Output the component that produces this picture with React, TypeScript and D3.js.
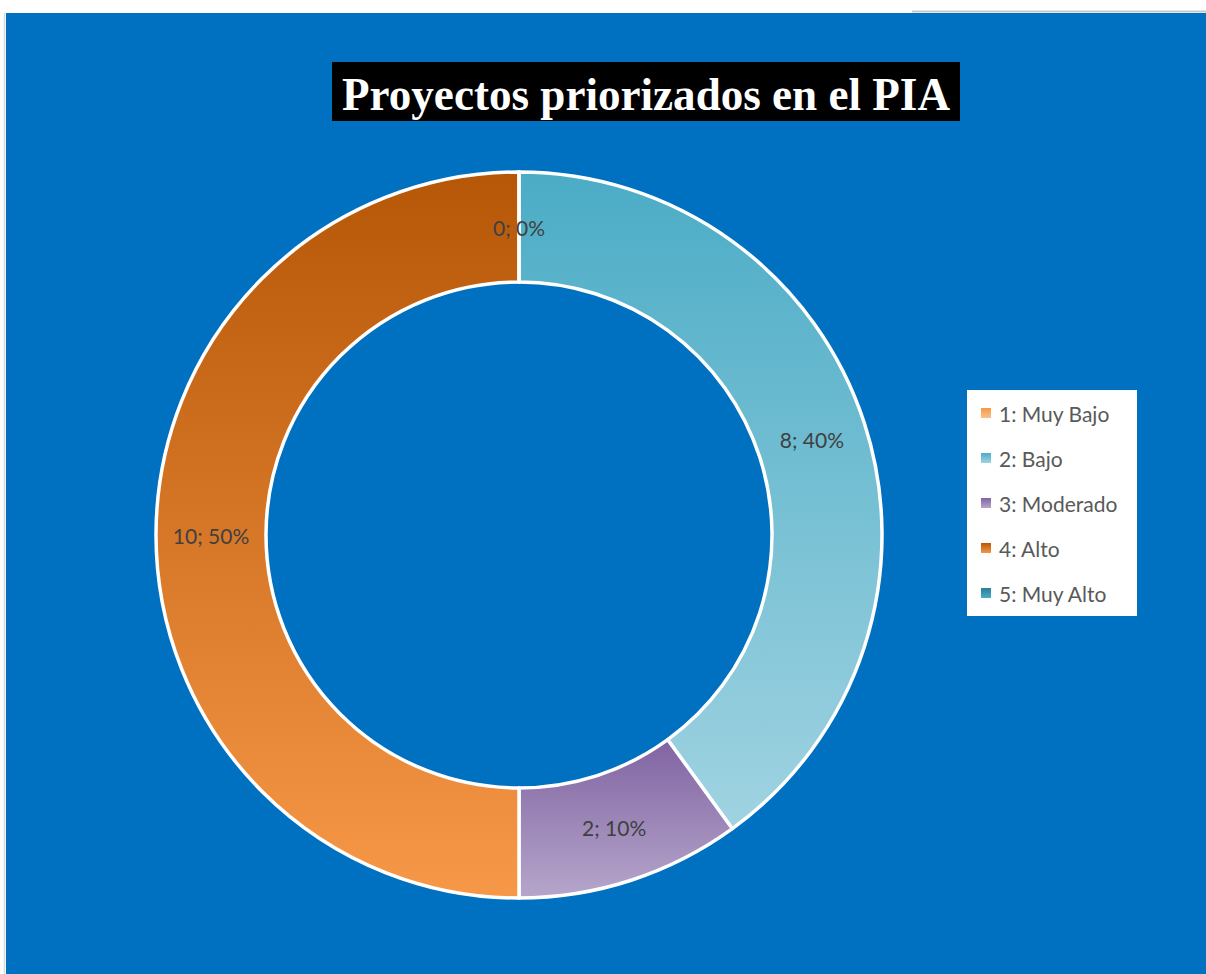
import React from "react";
import * as d3 from "d3";

const categories = ["1: Muy Bajo", "2: Bajo", "3: Moderado", "4: Alto", "5: Muy Alto"];
const values = [0, 8, 2, 10, 0];
const gradTop = ["#F79646", "#4BACC6", "#8064A2", "#B65708", "#2B7E94"];
const gradBottom = ["#FAC090", "#A0D3E1", "#B6A6CB", "#F79848", "#4BACC6"];
const title = "Proyectos priorizados en el PIA";

const W = 1206;
const H = 974;
const cx = 519;
const cy = 535;
const rOuter = 363;
const rInner = 253;

export default function App() {
  const total = d3.sum(values);
  const pie = d3
    .pie<number>()
    .sort(null)
    .value((d) => d)
    .startAngle(0)
    .endAngle(2 * Math.PI);
  const arcs = pie(values);
  const arcGen = d3.arc<d3.PieArcDatum<number>>().innerRadius(rInner).outerRadius(rOuter);
  const labelArc = d3
    .arc<d3.PieArcDatum<number>>()
    .innerRadius((rInner + rOuter) / 2)
    .outerRadius((rInner + rOuter) / 2);

  const seen: string[] = [];
  const labels = arcs
    .map((a, i) => {
      const [x, y] = labelArc.centroid(a);
      const key = `${Math.round(x)},${Math.round(y)}`;
      if (seen.includes(key)) return null;
      seen.push(key);
      const pct = total ? Math.round((a.data / total) * 100) : 0;
      return { x, y, text: `${a.data}; ${pct}%`, i };
    })
    .filter((d) => d !== null) as { x: number; y: number; text: string; i: number }[];

  const legendX = 967;
  const legendY = 390;
  const rowStep = 45;

  return (
    <svg
      width={W}
      height={H}
      style={{ position: "absolute", left: 0, top: 0, display: "block" }}
      xmlns="http://www.w3.org/2000/svg"
    >
      <defs>
        {categories.map((c, i) => (
          <linearGradient key={c} id={`g${i}`} x1="0" y1="0" x2="0" y2="1">
            <stop offset="0" stopColor={gradTop[i]} />
            <stop offset="1" stopColor={gradBottom[i]} />
          </linearGradient>
        ))}
      </defs>
      <rect x={0} y={0} width={W} height={H} fill="#ffffff" />
      <line x1={4.5} y1={13} x2={4.5} y2={H} stroke="#d9d9d9" strokeWidth={1.5} />
      <line x1={912} y1={11.5} x2={W} y2={11.5} stroke="#c8c8c8" strokeWidth={2} />
      <rect x={6} y={13} width={W - 6} height={H - 13} fill="#0070C0" />

      <rect x={332} y={62} width={628} height={59} fill="#000000" />
      <text
        x={646}
        y={110}
        textAnchor="middle"
        fill="#ffffff"
        fontFamily="'Liberation Serif', 'DejaVu Serif', serif"
        fontWeight="bold"
        fontSize={46}
        textLength={608}
        lengthAdjust="spacingAndGlyphs"
      >
        {title}
      </text>

      <g transform={`translate(${cx},${cy})`}>
        {arcs.map((a, i) => (
          <path
            key={categories[i]}
            d={arcGen(a) || ""}
            fill={`url(#g${i})`}
            stroke="#ffffff"
            strokeWidth={3.5}
            strokeLinejoin="round"
          />
        ))}
        {labels.map((l) => (
          <text
            key={`l${l.i}`}
            x={l.x}
            y={l.y}
            textAnchor="middle"
            dominantBaseline="central"
            fill="#404040"
            fontFamily="Lato, 'Open Sans', sans-serif"
            fontSize={21}
          >
            {l.text}
          </text>
        ))}
      </g>

      <rect x={legendX} y={legendY} width={170} height={226} fill="#ffffff" />
      {categories.map((c, i) => {
        const yc = legendY + 23 + i * rowStep;
        return (
          <g key={`leg${c}`}>
            <rect x={legendX + 14} y={yc - 5} width={10} height={10} fill={`url(#g${i})`} />
            <text
              x={legendX + 32}
              y={yc}
              dominantBaseline="central"
              fill="#595959"
              fontFamily="Lato, 'Open Sans', sans-serif"
              fontSize={21}
            >
              {c}
            </text>
          </g>
        );
      })}
    </svg>
  );
}
